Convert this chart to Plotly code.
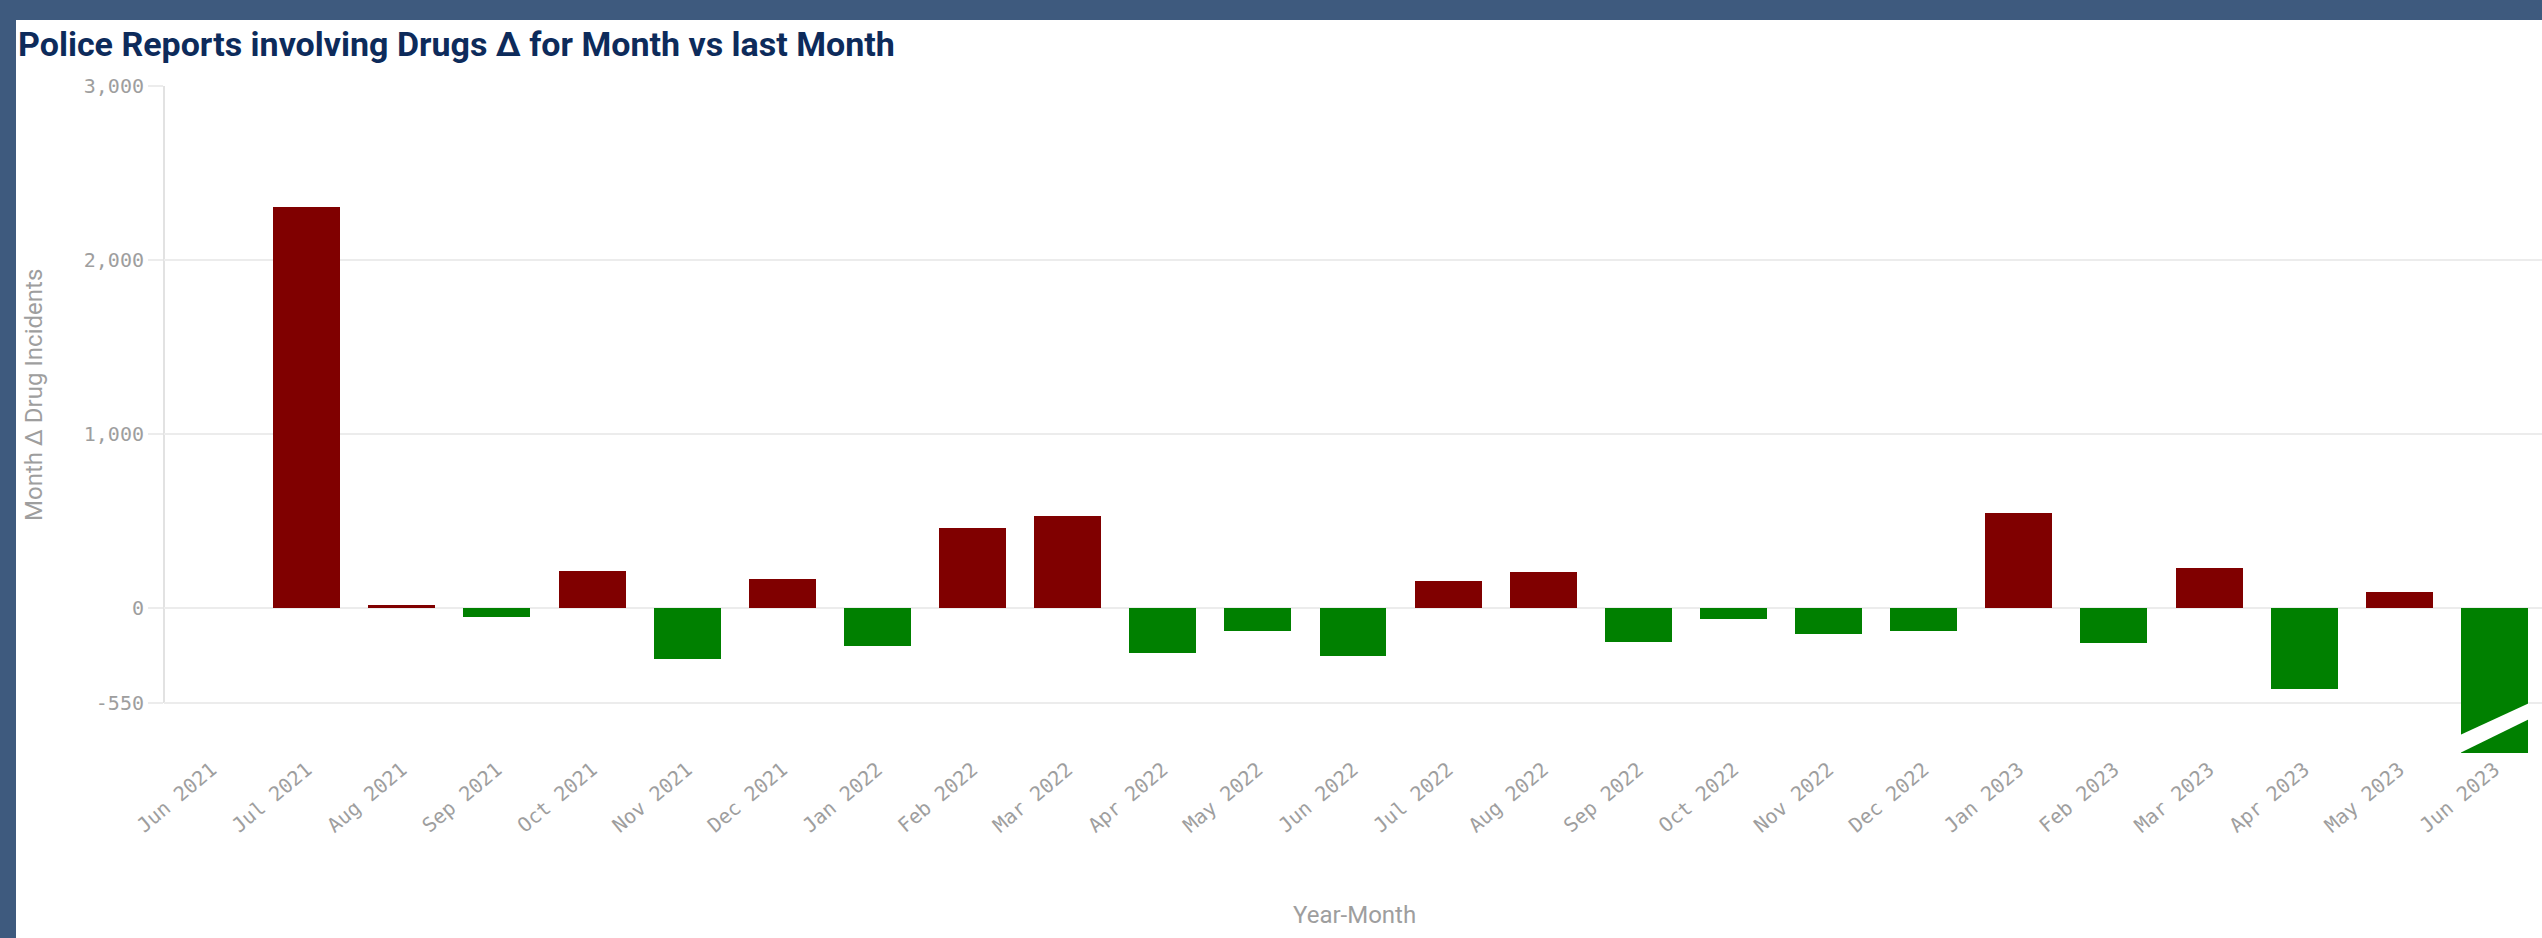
import plotly.graph_objects as go

# data (month-over-month delta of drug incidents)
months = [
    "Jun 2021", "Jul 2021", "Aug 2021", "Sep 2021", "Oct 2021", "Nov 2021",
    "Dec 2021", "Jan 2022", "Feb 2022", "Mar 2022", "Apr 2022", "May 2022",
    "Jun 2022", "Jul 2022", "Aug 2022", "Sep 2022", "Oct 2022", "Nov 2022",
    "Dec 2022", "Jan 2023", "Feb 2023", "Mar 2023", "Apr 2023", "May 2023",
    "Jun 2023",
]
delta = [
    0, 2302, 14, -57, 212, -294, 165, -224, 456, 527, -261, -138,
    -278, 154, 207, -198, -65, -154, -138, 545, -205, 230, -466, 90,
    -900,
]
y_ticks = [-550, 0, 1000, 2000, 3000]
y_tick_text = ["-550", "0", "1,000", "2,000", "3,000"]

W, H = 2542, 938
M_L, M_R, M_T, M_B = 164, 0, 86, 185
PLOT_W = W - M_L - M_R
PLOT_H = H - M_T - M_B
Y_MIN, Y_MAX = -837, 3000
BAR_W = 0.704

COLOR_UP = "#800000"
COLOR_DOWN = "#008000"
COLOR_FRAME = "#3e5a7e"
COLOR_TITLE = "#0d2b5b"
COLOR_MUTED = "#9e9e9e"
COLOR_GRID = "#ececec"
TICK_FONT = "DejaVu Sans Mono"
LABEL_FONT = "Roboto"


def px_x(px):
    return (px - M_L) / PLOT_W


def px_y(py):
    return (H - M_B - py) / PLOT_H


x_idx = list(range(len(months)))
colors = [COLOR_UP if v >= 0 else COLOR_DOWN for v in delta]

fig = go.Figure(
    go.Bar(
        x=x_idx,
        y=delta,
        width=BAR_W,
        marker=dict(color=colors, line=dict(width=0)),
        hovertext=months,
        hovertemplate="%{hovertext}: %{y:,}<extra></extra>",
    )
)

shapes = [
    # dashboard frame (top + left band)
    dict(type="rect", xref="paper", yref="paper", x0=px_x(0), x1=px_x(W),
         y0=px_y(20), y1=px_y(0), fillcolor=COLOR_FRAME, line_width=0, layer="above"),
    dict(type="rect", xref="paper", yref="paper", x0=px_x(0), x1=px_x(16),
         y0=px_y(H), y1=px_y(0), fillcolor=COLOR_FRAME, line_width=0, layer="above"),
    # value axis line, only over the labelled range
    dict(type="line", xref="paper", yref="y", x0=0, x1=0, y0=y_ticks[0], y1=y_ticks[-1],
         line=dict(color="#e2e2e2", width=2), layer="below"),
]

# axis-break marker on bars that fall past the bottom of the axis
for i, v in enumerate(delta):
    if v < Y_MIN:
        xl, xr = i - BAR_W / 2 - 0.01, i + BAR_W / 2 + 0.01
        path = (f"M {xl},{Y_MIN} L {xl},{Y_MIN + 103} "
                f"L {xr},{Y_MIN + 286} L {xr},{Y_MIN + 194} Z")
        shapes.append(dict(type="path", xref="x", yref="y", path=path,
                           fillcolor="white", line_width=0, layer="above"))

fig.update_layout(
    width=W,
    height=H,
    margin=dict(l=M_L, r=M_R, t=M_T, b=M_B, pad=0),
    paper_bgcolor="white",
    plot_bgcolor="white",
    showlegend=False,
    bargap=0,
    title=dict(
        text="Police Reports involving Drugs \u0394 for Month vs last Month",
        font=dict(family=LABEL_FONT, size=34, color=COLOR_TITLE, weight="bold"),
        x=18 / W, xanchor="left", xref="container",
        y=1 - 44 / H, yanchor="middle", yref="container",
    ),
    shapes=shapes,
    annotations=[
        dict(text="Month \u0394 Drug Incidents", xref="paper", yref="paper",
             x=px_x(34), y=px_y(395), textangle=-90, showarrow=False,
             xanchor="center", yanchor="middle",
             font=dict(family=LABEL_FONT, size=24, color=COLOR_MUTED)),
        dict(text="Year-Month", xref="paper", yref="paper",
             x=px_x(1354), y=px_y(915), showarrow=False,
             xanchor="center", yanchor="middle",
             font=dict(family=LABEL_FONT, size=24, color=COLOR_MUTED)),
    ],
)

fig.update_xaxes(
    range=[-0.5, len(months) - 0.5],
    tickmode="array",
    tickvals=x_idx,
    ticktext=months,
    tickangle=-40,
    showgrid=False,
    zeroline=False,
    showline=False,
    ticks="",
    tickfont=dict(family=TICK_FONT, size=20, color=COLOR_MUTED),
)
fig.update_yaxes(
    range=[Y_MIN, Y_MAX],
    tickmode="array",
    tickvals=y_ticks,
    ticktext=y_tick_text,
    showgrid=True,
    gridcolor=COLOR_GRID,
    gridwidth=2,
    zeroline=False,
    showline=False,
    ticks="outside",
    ticklen=15,
    tickwidth=2,
    tickcolor=COLOR_GRID,
    tickfont=dict(family=TICK_FONT, size=20, color=COLOR_MUTED),
)

fig.write_html("out.html", config={"displayModeBar": False},
               post_script="document.body.style.margin='0';")
